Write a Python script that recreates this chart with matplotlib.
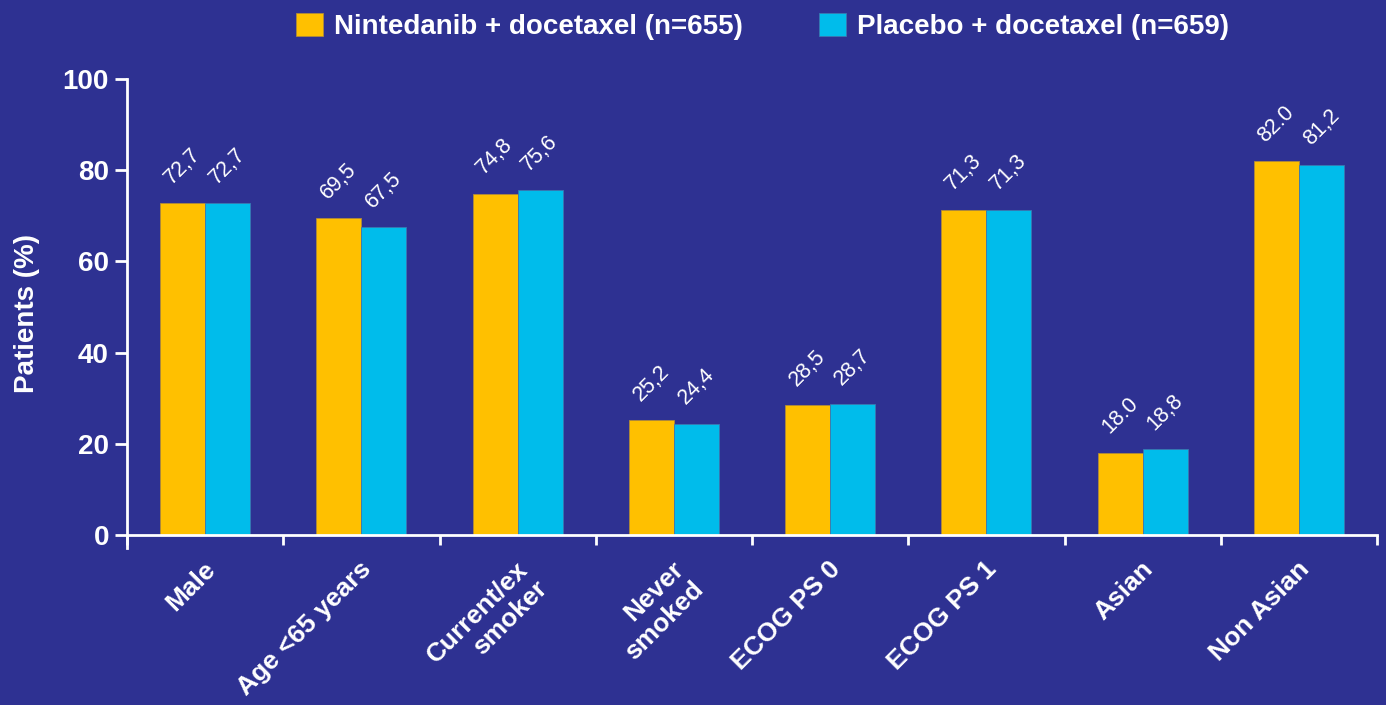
import numpy as np
import matplotlib
matplotlib.use("Agg")
import matplotlib.pyplot as plt
from matplotlib.transforms import offset_copy

# Data
categories = ["Male", "Age <65 years", "Current/ex\nsmoker", "Never\nsmoked",
              "ECOG PS 0", "ECOG PS 1", "Asian", "Non Asian"]
nintedanib = [72.7, 69.5, 74.8, 25.2, 28.5, 71.3, 18.0, 82.0]
placebo = [72.7, 67.5, 75.6, 24.4, 28.7, 71.3, 18.8, 81.2]
nintedanib_labels = ["72,7", "69,5", "74,8", "25,2", "28,5", "71,3", "18.0", "82.0"]
placebo_labels = ["72,7", "67,5", "75,6", "24,4", "28,7", "71,3", "18,8", "81,2"]
series_names = ["Nintedanib + docetaxel (n=655)", "Placebo + docetaxel (n=659)"]

BG = "#2E3192"
YELLOW = "#FFC000"
CYAN = "#00BCEB"

plt.rcParams['font.family'] = ['Liberation Sans', 'DejaVu Sans']

fig = plt.figure(figsize=(13.86, 7.05), dpi=100, facecolor=BG)
# y=0 at 535px, y=100 at 79px, axis extends a bit below zero
ax = fig.add_axes([127 / 1386, 1 - 548 / 705, 1250 / 1386, 469 / 705])
ax.set_facecolor(BG)

x = np.arange(len(categories)) + 0.5
w = 0.288
b1 = ax.bar(x - w / 2, nintedanib, w, color=YELLOW, edgecolor="#b08a3a", linewidth=0.6,
            label=series_names[0])
b2 = ax.bar(x + w / 2, placebo, w, color=CYAN, edgecolor="#3a78b0", linewidth=0.6,
            label=series_names[1])

# value labels, rotated
for bars, labels in [(b1, nintedanib_labels), (b2, placebo_labels)]:
    for rect, lab in zip(bars, labels):
        ax.annotate(lab, (rect.get_x() + rect.get_width() / 2, rect.get_height()),
                    xytext=(0, 15), textcoords="offset pixels",
                    ha="center", va="bottom", rotation=45,
                    color="white", fontsize=15.5)

ax.set_xlim(0, len(categories))
ax.set_ylim(-2.85, 100)
ax.spines['bottom'].set_position(('data', 0))
ax.spines['top'].set_visible(False)
ax.spines['right'].set_visible(False)
for s in ['left', 'bottom']:
    ax.spines[s].set_color("white")
    ax.spines[s].set_linewidth(2.0)

ax.set_yticks([0, 20, 40, 60, 80, 100])
ax.tick_params(axis='y', colors="white", length=9, width=2, labelsize=20, pad=4)
for t in ax.get_yticklabels():
    t.set_fontweight("bold")

# boundary ticks on x, labels at category centres
ax.set_xticks(np.arange(len(categories) + 1))
ax.set_xticklabels([])
ax.tick_params(axis='x', colors="white", length=7, width=2)
for xi, lab in zip(x, categories):
    ax.text(xi, 0, lab, transform=offset_copy(ax.transData, fig=fig, x=-2, y=-22, units="dots"),
            ha="right", va="top", rotation=45, rotation_mode="anchor",
            color="white", fontsize=19, fontweight="bold", multialignment="right",
            linespacing=1.2)

ax.set_ylabel("Patients (%)", color="white", fontsize=20, fontweight="bold", labelpad=16.5)

fig.legend(loc="center", bbox_to_anchor=(0.5502, 0.962), ncol=2, frameon=False,
           prop={'weight': 'bold', 'size': 20},
           handlelength=0.97, handleheight=0.86, handletextpad=0.4,
           columnspacing=2.75, labelcolor="white")

fig.savefig("out.png", dpi=100, facecolor=BG)
